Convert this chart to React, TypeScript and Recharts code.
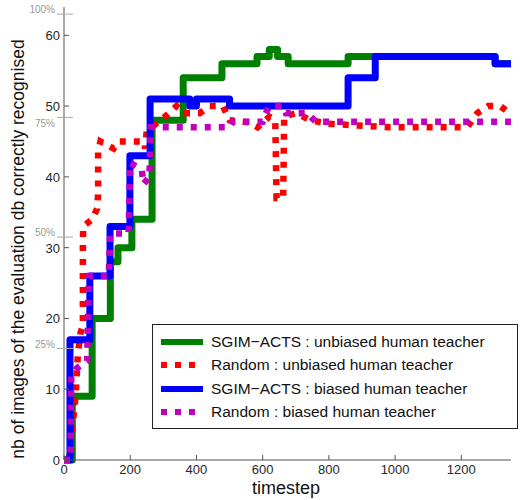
import { LineChart, Line, XAxis, YAxis } from 'recharts'

// SGIM-ACTS, unbiased teacher (step)
const greenT = [0, 25, 28, 85, 140, 163, 205, 266, 360, 477, 583, 620, 645, 677, 858, 1302, 1350]
const greenV = [0, 8, 9, 20, 28, 30, 34, 48, 54, 56, 57, 58, 57, 56, 57, 56, 56]

// Random, unbiased teacher
const redT = [15, 35, 42, 50, 57, 57, 58, 85, 100, 103, 103, 110, 150, 165, 240, 245, 250, 305, 340, 360, 410, 440, 480, 500, 560, 585, 620, 638, 642, 662, 665, 700, 745, 800, 985, 1218, 1248, 1281, 1317, 1347]
const redV = [0, 9, 15, 18, 19, 30, 33, 34, 35.5, 37.5, 43.5, 45, 44, 45, 45, 44, 46.5, 48.5, 50, 49, 49, 50, 50, 48, 47.7, 47, 48.5, 48, 37, 37, 48.5, 49, 48, 47.5, 47, 47, 49, 50, 50, 49]

// SGIM-ACTS, biased teacher (step)
const blueT = [0, 18, 78, 139, 199, 260, 380, 400, 500, 858, 940, 1302, 1350]
const blueV = [0, 17, 26, 33, 43, 51, 50, 51, 50, 54, 57, 56, 56]

// Random, biased teacher
const magT = [0, 20, 22, 40, 70, 75, 135, 140, 195, 200, 235, 240, 258, 262, 500, 510, 600, 605, 620, 660, 670, 735, 760, 1350]
const magV = [0, 0, 12, 13, 14, 26, 26, 32, 32, 42, 41, 39, 40, 47, 47, 47.8, 47.8, 48.5, 50, 50, 49, 49, 47.8, 47.8]

const xTicks = [0, 200, 400, 600, 800, 1000, 1200]
const yTicks = [0, 10, 20, 30, 40, 50, 60]
// second scale: share of the evaluation db
const pctTicks = [15.75, 31.5, 48.4, 63]
const pctLabels = ['25%', '50%', '75%', '100%']

const legendItems = [
  { label: 'SGIM\u2212ACTS : unbiased human teacher', color: '#008000', dotted: false },
  { label: 'Random : unbiased human teacher', color: '#ff0000', dotted: true },
  { label: 'SGIM\u2212ACTS : biased human teacher', color: '#0000ff', dotted: false },
  { label: 'Random : biased human teacher', color: '#bf00bf', dotted: true },
]

const zip = (t: number[], v: number[]) => t.map((x, i) => ({ t: x, v: v[i] }))

const FONT = '"Liberation Sans", Arial, sans-serif'
const AXIS = '#555'

function YTick({ x, y, payload }: any) {
  const i = pctTicks.indexOf(payload.value)
  if (i >= 0) {
    const below = pctLabels[i] === '75%'
    return (
      <g>
        <line x1={x - 7} x2={x + 9} y1={y} y2={y} stroke="#aaa" />
        <text x={x - 9} y={y} dy={below ? 10 : -1} textAnchor="end" fontSize={10} fill="#999" fontFamily={FONT}>
          {pctLabels[i]}
        </text>
      </g>
    )
  }
  return (
    <g>
      <line x1={x} x2={x + 5} y1={y} y2={y} stroke={AXIS} />
      <text x={x - 4} y={y} dy={5} textAnchor="end" fontSize={13} fill="#262626" fontFamily={FONT}>
        {payload.value}
      </text>
    </g>
  )
}

function XTick({ x, y, payload }: any) {
  return (
    <g>
      <line x1={x} x2={x} y1={y} y2={y - 5} stroke={AXIS} />
      <text x={x} y={y} dy={14} textAnchor="middle" fontSize={13} fill="#262626" fontFamily={FONT}>
        {payload.value}
      </text>
    </g>
  )
}

function LegendBox() {
  return (
    <div style={{ position: 'absolute', left: 152, top: 324, border: '1px solid #222', background: '#fff', width: 364,
      padding: '5px 0 4px 0', fontFamily: FONT }}>
      {legendItems.map((it) => (
        <div key={it.label} style={{ display: 'flex', alignItems: 'center', height: 23.5 }}>
          <svg width={50} height={10} style={{ marginLeft: 8 }}>
            <line x1={0} x2={42} y1={5} y2={5} stroke={it.color} strokeWidth={6}
              strokeDasharray={it.dotted ? '6 8' : undefined} />
          </svg>
          <span style={{ fontSize: 15.5, color: '#111' }}>{it.label}</span>
        </div>
      ))}
    </div>
  )
}

export default function App() {
  const yAll = [...yTicks, ...pctTicks].sort((a, b) => a - b)
  return (
    <div style={{ position: 'absolute', left: 0, top: 0, width: 532, height: 500, background: '#fff' }}>
      <LineChart width={532} height={500} margin={{ top: 7, right: 21, bottom: 15, left: 4 }}>
        <XAxis
          type="number"
          dataKey="t"
          domain={[0, 1350]}
          ticks={xTicks}
          interval={0}
          allowDataOverflow
          stroke={AXIS}
          tickLine={false}
          tickSize={0}
          tickMargin={0}
          height={25}
          tick={<XTick />}
        />
        <YAxis
          type="number"
          domain={[0, 64]}
          ticks={yAll}
          interval={0}
          stroke={AXIS}
          tickLine={false}
          tickSize={0}
          tickMargin={0}
          width={60}
          tick={<YTick />}
        />
        <Line data={zip(greenT, greenV)} dataKey="v" type="stepAfter" stroke="#008000" strokeWidth={7}
          strokeLinejoin="round" strokeLinecap="round" dot={false} isAnimationActive={false} />
        <Line data={zip(redT, redV)} dataKey="v" type="linear" stroke="#ff0000" strokeWidth={6.5}
          strokeDasharray="6 8" dot={false} isAnimationActive={false} />
        <Line data={zip(blueT, blueV)} dataKey="v" type="stepAfter" stroke="#0000ff" strokeWidth={7}
          strokeLinejoin="round" strokeLinecap="round" dot={false} isAnimationActive={false} />
        <Line data={zip(magT, magV)} dataKey="v" type="linear" stroke="#bf00bf" strokeWidth={6.5}
          strokeDasharray="6 8" dot={false} isAnimationActive={false} />
      </LineChart>
      <LegendBox />
      <div style={{ position: 'absolute', left: 18 - 250, top: 249 - 11, width: 500, height: 22, lineHeight: '22px',
        textAlign: 'center', transform: 'rotate(-90deg)', fontSize: 17.5, fontFamily: FONT, color: '#111' }}>
        nb of images of the evaluation db correctly recognised
      </div>
      <div style={{ position: 'absolute', left: 186, top: 478, width: 200, height: 20, lineHeight: '20px',
        textAlign: 'center', fontSize: 18, fontFamily: FONT, color: '#111' }}>
        timestep
      </div>
    </div>
  )
}
